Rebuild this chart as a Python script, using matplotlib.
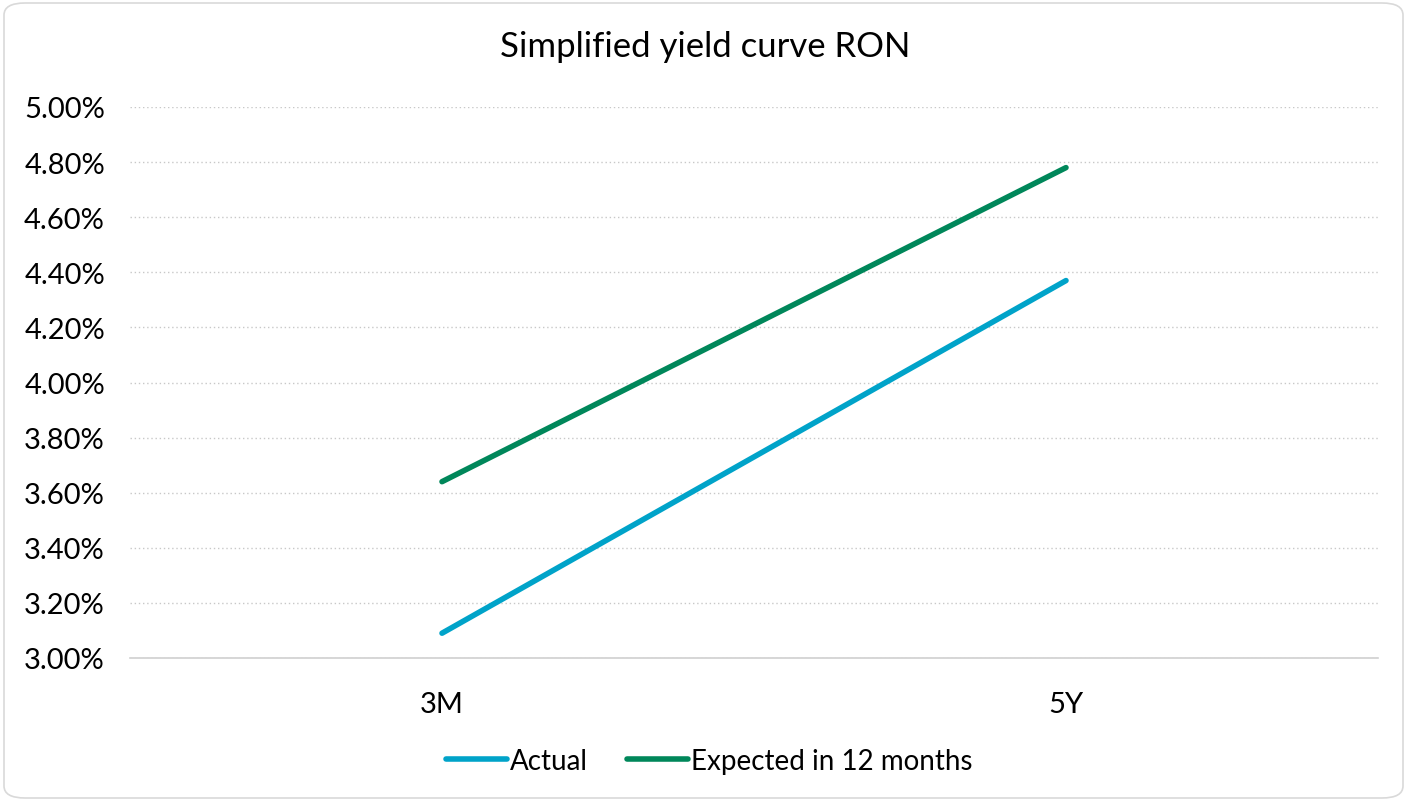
import matplotlib
matplotlib.use("Agg")
import matplotlib.pyplot as plt
from matplotlib.patches import FancyBboxPatch
from matplotlib.ticker import FuncFormatter

categories = ["3M", "5Y"]
actual = [3.09, 4.37]
expected = [3.64, 4.78]
yticks = [3.00, 3.20, 3.40, 3.60, 3.80, 4.00, 4.20, 4.40, 4.60, 4.80, 5.00]

plt.rcParams['font.family'] = ['Lato', 'DejaVu Sans']

W, H = 1407, 803
fig = plt.figure(figsize=(W / 100, H / 100), dpi=100)
fig.patch.set_facecolor("white")
fig.patches.append(FancyBboxPatch((4 / W, 4 / H), (W - 8) / W, (H - 8) / H,
                                  boxstyle="round,pad=0,rounding_size=0.015",
                                  transform=fig.transFigure, facecolor="white",
                                  edgecolor="#d9d9d9", linewidth=1.2, zorder=-1))

ax = fig.add_axes([130 / W, (H - 659) / H, (1378 - 130) / W, (659 - 108) / H])
ax.set_facecolor("none")
x = list(range(len(categories)))
ax.plot(x, actual, color="#00a3c9", lw=4, solid_capstyle="round", label="Actual", zorder=3)
ax.plot(x, expected, color="#00875a", lw=4, solid_capstyle="round", label="Expected in 12 months", zorder=3)

ax.set_xlim(-0.5, 1.5)
ax.set_ylim(3.0, 5.0)
ax.set_yticks(yticks)
ax.yaxis.set_major_formatter(FuncFormatter(lambda v, p: f"{v:.2f}%"))
ax.set_xticks(x)
ax.set_xticklabels(categories)
ax.grid(axis="y", color="#c8c8c8", linestyle=(0, (1, 2)), linewidth=1)
ax.set_axisbelow(True)
for s in ["top", "right", "left"]:
    ax.spines[s].set_visible(False)
ax.spines["bottom"].set_color("#d0d0d0")
ax.spines["bottom"].set_linewidth(1.2)
ax.tick_params(axis="both", length=0, labelsize=21, colors="#000000")
ax.tick_params(axis="y", pad=18)
ax.tick_params(axis="x", pad=24)

fig.text(705 / W, 1 - 47 / H, "Simplified yield curve RON", fontsize=25,
         ha="center", va="center")

leg = fig.legend(loc="center", bbox_to_anchor=(709 / W, 1 - 762 / H), ncol=2,
                 frameon=False, fontsize=20, handlelength=2.2, handletextpad=0.1,
                 columnspacing=1.4)

fig.savefig("out.png", dpi=100)
